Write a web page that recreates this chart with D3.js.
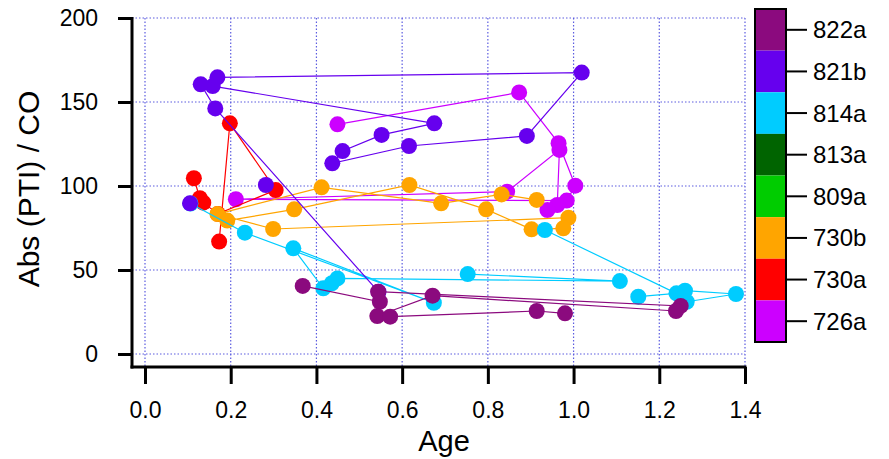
<!DOCTYPE html>
<html>
<head>
<meta charset="utf-8">
<script src="https://cdn.jsdelivr.net/npm/d3@7"></script>
<style>
  body { margin: 0; background: #fff; }
  text { font-family: "Liberation Sans", Arial, sans-serif; fill: #000; }
</style>
</head>
<body>
<div id="chart"></div>
<script>
// sample names, top to bottom as in the colour bar
const names = ["822a", "821b", "814a", "813a", "809a", "730b", "730a", "726a"];
const colors = ["#8B0A7E", "#6600EE", "#00CCFF", "#006400", "#00CC00", "#FFA500", "#FF0000", "#CC00FF"];

// age and Abs(PTI)/CO per sample (null = gap in the trace)
const age_822a = [0.368, 0.548, 0.544, 1.250, 1.239, 0.671, 0.542, 0.572, 0.914, 0.980];
const ratio_822a = [40.5, 31.1, 37.1, 28.6, 25.6, 34.7, 22.6, 22.2, 25.6, 24.2];

const age_821b = [0.158, 0.675, 0.552, 0.461, 0.437, 0.616, 0.891, 1.019, 0.169, 0.130, 0.164, 0.545, null, 0.105, null, 0.282];
const ratio_821b = [159.5, 137.3, 130.4, 120.8, 113.5, 123.8, 129.8, 167.5, 164.7, 160.5, 146.2, 37.0, null, 89.7, null, 100.6];

const age_814a = [0.106, 0.233, 0.674, 0.346, 0.416, 0.436, 0.449, 1.108, 0.753, null, 1.151, 1.240, 0.933, null, 1.260, 1.379, 1.264];
const ratio_814a = [89.6, 72.2, 30.5, 62.9, 39.1, 42.1, 45.0, 43.4, 47.6, null, 34.1, 36.1, 73.8, null, 37.7, 35.7, 31.1];

const age_813a = [];
const ratio_813a = [];

const age_809a = [];
const ratio_809a = [];

const age_730b = [0.914, 0.832, 0.691, 0.412, 0.169, 0.299, 0.988, 0.976, 0.902, 0.796, 0.617, 0.348, 0.192];
const ratio_730b = [91.7, 95.0, 89.7, 99.2, 83.3, 74.4, 81.1, 74.8, 74.2, 86.1, 100.6, 86.1, 79.4];

const age_730a = [0.114, 0.128, 0.136, 0.170, 0.305, 0.198, 0.173];
const ratio_730a = [104.6, 92.7, 90.1, 83.4, 97.6, 137.3, 66.9];

const age_726a = [0.449, 0.873, 0.965, 1.004, 0.984, 0.212, 0.845, 0.967, 0.962, 0.939];
const ratio_726a = [136.7, 155.7, 125.5, 100.2, 91.3, 92.1, 96.6, 121.5, 88.7, 85.7];

const xTicks = [0, 0.2, 0.4, 0.6, 0.8, 1.0, 1.2, 1.4];
const yTicks = [0, 50, 100, 150, 200];

const ages = { "822a": age_822a, "821b": age_821b, "814a": age_814a, "813a": age_813a,
               "809a": age_809a, "730b": age_730b, "730a": age_730a, "726a": age_726a };
const ratios = { "822a": ratio_822a, "821b": ratio_821b, "814a": ratio_814a, "813a": ratio_813a,
                 "809a": ratio_809a, "730b": ratio_730b, "730a": ratio_730a, "726a": ratio_726a };

const width = 889, height = 459;
const axisX = 132, axisY = 367;

const svg = d3.select("#chart")
    .append("svg")
    .attr("width", width)
    .attr("height", height);

const x = d3.scaleLinear().domain([0, 1.4]).range([145, 745]);
const y = d3.scaleLinear().domain([0, 200]).range([354, 18]);

// dotted grid
const grid = svg.append("g")
    .attr("stroke", "#5C5CE0")
    .attr("stroke-width", 1.2)
    .attr("stroke-dasharray", "1.5,2");

grid.selectAll(".vgrid")
    .data(xTicks)
    .join("line")
    .attr("x1", d => x(d)).attr("x2", d => x(d))
    .attr("y1", y(200)).attr("y2", axisY);

grid.selectAll(".hgrid")
    .data(yTicks)
    .join("line")
    .attr("x1", axisX).attr("x2", x(1.4))
    .attr("y1", d => y(d)).attr("y2", d => y(d));

// traces, drawn bottom (726a) to top (822a)
const line = d3.line()
    .defined(d => d[0] != null && d[1] != null)
    .x(d => x(d[0]))
    .y(d => y(d[1]));

const series = names.map((name, i) => ({
    name: name,
    color: colors[i],
    points: ages[name].map((a, j) => [a, ratios[name][j]])
})).reverse();

series.forEach(s => {
    const g = svg.append("g");
    g.append("path")
        .datum(s.points)
        .attr("d", line)
        .attr("fill", "none")
        .attr("stroke", s.color)
        .attr("stroke-width", 1.2);
    g.selectAll("circle")
        .data(s.points.filter(d => d[0] != null))
        .join("circle")
        .attr("cx", d => x(d[0]))
        .attr("cy", d => y(d[1]))
        .attr("r", 8)
        .attr("fill", s.color);
});

// axes
const yAxis = svg.append("g")
    .attr("transform", `translate(${axisX},0)`)
    .call(d3.axisLeft(y).tickValues(yTicks).tickSize(14).tickPadding(20));

const xAxis = svg.append("g")
    .attr("transform", `translate(0,${axisY})`)
    .call(d3.axisBottom(x).tickValues(xTicks).tickFormat(d3.format(".1f")).tickSize(17).tickPadding(18));

[yAxis, xAxis].forEach(a => {
    a.select(".domain").remove();
    a.selectAll(".tick line").attr("stroke", "#000").attr("stroke-width", 3);
    a.selectAll(".tick text").attr("font-size", 23).attr("font-family", "Liberation Sans, Arial, sans-serif");
});

svg.append("line")
    .attr("x1", axisX).attr("x2", axisX)
    .attr("y1", y(200) - 1).attr("y2", axisY + 1.5)
    .attr("stroke", "#000").attr("stroke-width", 3);

svg.append("line")
    .attr("x1", axisX - 1.5).attr("x2", x(1.4) + 1.5)
    .attr("y1", axisY).attr("y2", axisY)
    .attr("stroke", "#000").attr("stroke-width", 3);

// axis titles
svg.append("text")
    .attr("transform", "translate(39,189) rotate(-90)")
    .attr("text-anchor", "middle")
    .attr("font-size", 30)
    .text("Abs (PTI) / CO");

svg.append("text")
    .attr("x", 444)
    .attr("y", 451)
    .attr("text-anchor", "middle")
    .attr("font-size", 29)
    .text("Age");

// colour bar legend
const barX = 755, barY = 9, barW = 31, barH = 333;
const band = d3.scaleBand().domain(names).range([barY, barY + barH]);

const legend = svg.append("g");

legend.selectAll("rect")
    .data(names)
    .join("rect")
    .attr("x", barX)
    .attr("y", d => band(d))
    .attr("width", barW)
    .attr("height", band.bandwidth())
    .attr("fill", (d, i) => colors[i]);

legend.append("rect")
    .attr("x", barX).attr("y", barY)
    .attr("width", barW).attr("height", barH)
    .attr("fill", "none")
    .attr("stroke", "#000")
    .attr("stroke-width", 2);

legend.selectAll("line")
    .data(names)
    .join("line")
    .attr("x1", barX + barW).attr("x2", barX + barW + 21)
    .attr("y1", d => band(d) + band.bandwidth() / 2)
    .attr("y2", d => band(d) + band.bandwidth() / 2)
    .attr("stroke", "#000")
    .attr("stroke-width", 2);

legend.selectAll("text")
    .data(names)
    .join("text")
    .attr("x", barX + barW + 27)
    .attr("y", d => band(d) + band.bandwidth() / 2)
    .attr("dominant-baseline", "central")
    .attr("font-size", 24)
    .text(d => d);
</script>
</body>
</html>
